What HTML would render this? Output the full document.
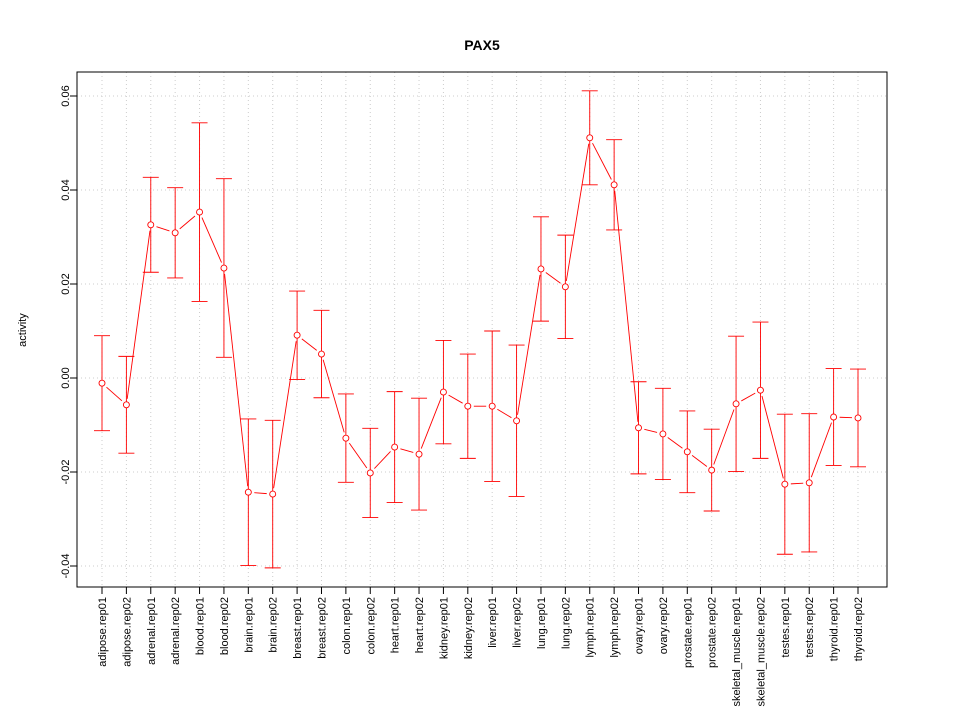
<!DOCTYPE html>
<html><head><meta charset="utf-8"><style>body{margin:0;background:#fff}svg{display:block;font-family:"Liberation Sans",sans-serif}</style></head>
<body>
<svg id="chart" width="960" height="720" xmlns="http://www.w3.org/2000/svg">
<rect width="960" height="720" fill="#fff"/>
<text x="482" y="50" text-anchor="middle" font-size="14" font-weight="bold">PAX5</text>
<text transform="translate(26,330) rotate(-90)" text-anchor="middle" font-size="11">activity</text>
<g id="grid"></g><g id="marks"></g><g id="axes"></g>
<rect x="77" y="72" width="810" height="515" fill="none" stroke="#000"/>
</svg>
<script>
const categories=["adipose.rep01","adipose.rep02","adrenal.rep01","adrenal.rep02","blood.rep01","blood.rep02","brain.rep01","brain.rep02","breast.rep01","breast.rep02","colon.rep01","colon.rep02","heart.rep01","heart.rep02","kidney.rep01","kidney.rep02","liver.rep01","liver.rep02","lung.rep01","lung.rep02","lymph.rep01","lymph.rep02","ovary.rep01","ovary.rep02","prostate.rep01","prostate.rep02","skeletal_muscle.rep01","skeletal_muscle.rep02","testes.rep01","testes.rep02","thyroid.rep01","thyroid.rep02"];
const means=[-0.0011,-0.0057,0.0326,0.0309,0.0353,0.0234,-0.0243,-0.0247,0.0091,0.0051,-0.0128,-0.0202,-0.0147,-0.0162,-0.0030,-0.0060,-0.0060,-0.0091,0.0232,0.0194,0.0511,0.0411,-0.0106,-0.0119,-0.0157,-0.0196,-0.0055,-0.0026,-0.0226,-0.0223,-0.0083,-0.0085];
const errs=[0.0101,0.0103,0.0101,0.0096,0.0190,0.0190,0.0156,0.0157,0.0094,0.0093,0.0094,0.0095,0.0118,0.0119,0.0110,0.0111,0.0160,0.0161,0.0111,0.0110,0.0100,0.0096,0.0098,0.0097,0.0087,0.0087,0.0144,0.0145,0.0149,0.0147,0.0103,0.0104];
const yTicks=[-0.04,-0.02,0,0.02,0.04,0.06];
const yTickLabels=["-0.04","-0.02","0.00","0.02","0.04","0.06"];
const NS="http://www.w3.org/2000/svg";
const xs=i=>102+i*(858-102)/(categories.length-1);
const ys=v=>378-v*4700;
function mk(p,t,a){const e=document.createElementNS(NS,t);for(const k in a)e.setAttribute(k,a[k]);p.appendChild(e);return e;}
const grid=document.getElementById('grid'),marks=document.getElementById('marks'),axes=document.getElementById('axes');
categories.forEach((c,i)=>{
 const g=mk(grid,'line',{x1:xs(i),x2:xs(i),y1:72,y2:587,stroke:'#ccc','stroke-dasharray':'1,3'});
 
 
 const t=mk(axes,'line',{x1:xs(i),x2:xs(i),y1:587,y2:594,stroke:'#000'});
 
 
 const l=mk(axes,'text',{transform:`translate(${xs(i)+4},597) rotate(-90)`,'text-anchor':'end','font-size':'11'});
 l.textContent=c;
 
 
});
yTicks.forEach((v,i)=>{
 const g=mk(grid,'line',{x1:77,x2:887,y1:ys(v),y2:ys(v),stroke:'#ccc','stroke-dasharray':'1,3'});
 
 
 const t=mk(axes,'line',{x1:70,x2:77,y1:ys(v),y2:ys(v),stroke:'#000'});
 
 
 const l=mk(axes,'text',{transform:`translate(69,${ys(v)}) rotate(-90)`,'text-anchor':'middle','font-size':'11'});
 l.textContent=yTickLabels[i];
 
 
});
const red='#ff0000';
for(let i=0;i<means.length-1;i++){
 const x1=xs(i),y1=ys(means[i]),x2=xs(i+1),y2=ys(means[i+1]);
 const d=Math.hypot(x2-x1,y2-y1),g=6;
 if(d>2*g){const ux=(x2-x1)/d,uy=(y2-y1)/d;
 const s=mk(marks,'line',{x1:x1+ux*g,y1:y1+uy*g,x2:x2-ux*g,y2:y2-uy*g,stroke:red,'stroke-width':0.9});
 
 }
}
means.forEach((m,i)=>{
 const x=xs(i),hi=ys(m+errs[i]),lo=ys(m-errs[i]);
 const e=mk(marks,'path',{d:`M${x},${hi}V${lo}M${x-8},${hi}H${x+8}M${x-8},${lo}H${x+8}`,stroke:red,fill:'none','stroke-width':0.9});
 
 
 const p=mk(marks,'circle',{cx:x,cy:ys(m),r:3,fill:'#fff',stroke:red,'stroke-width':0.9});
 
 
});
</script>
</body></html>
